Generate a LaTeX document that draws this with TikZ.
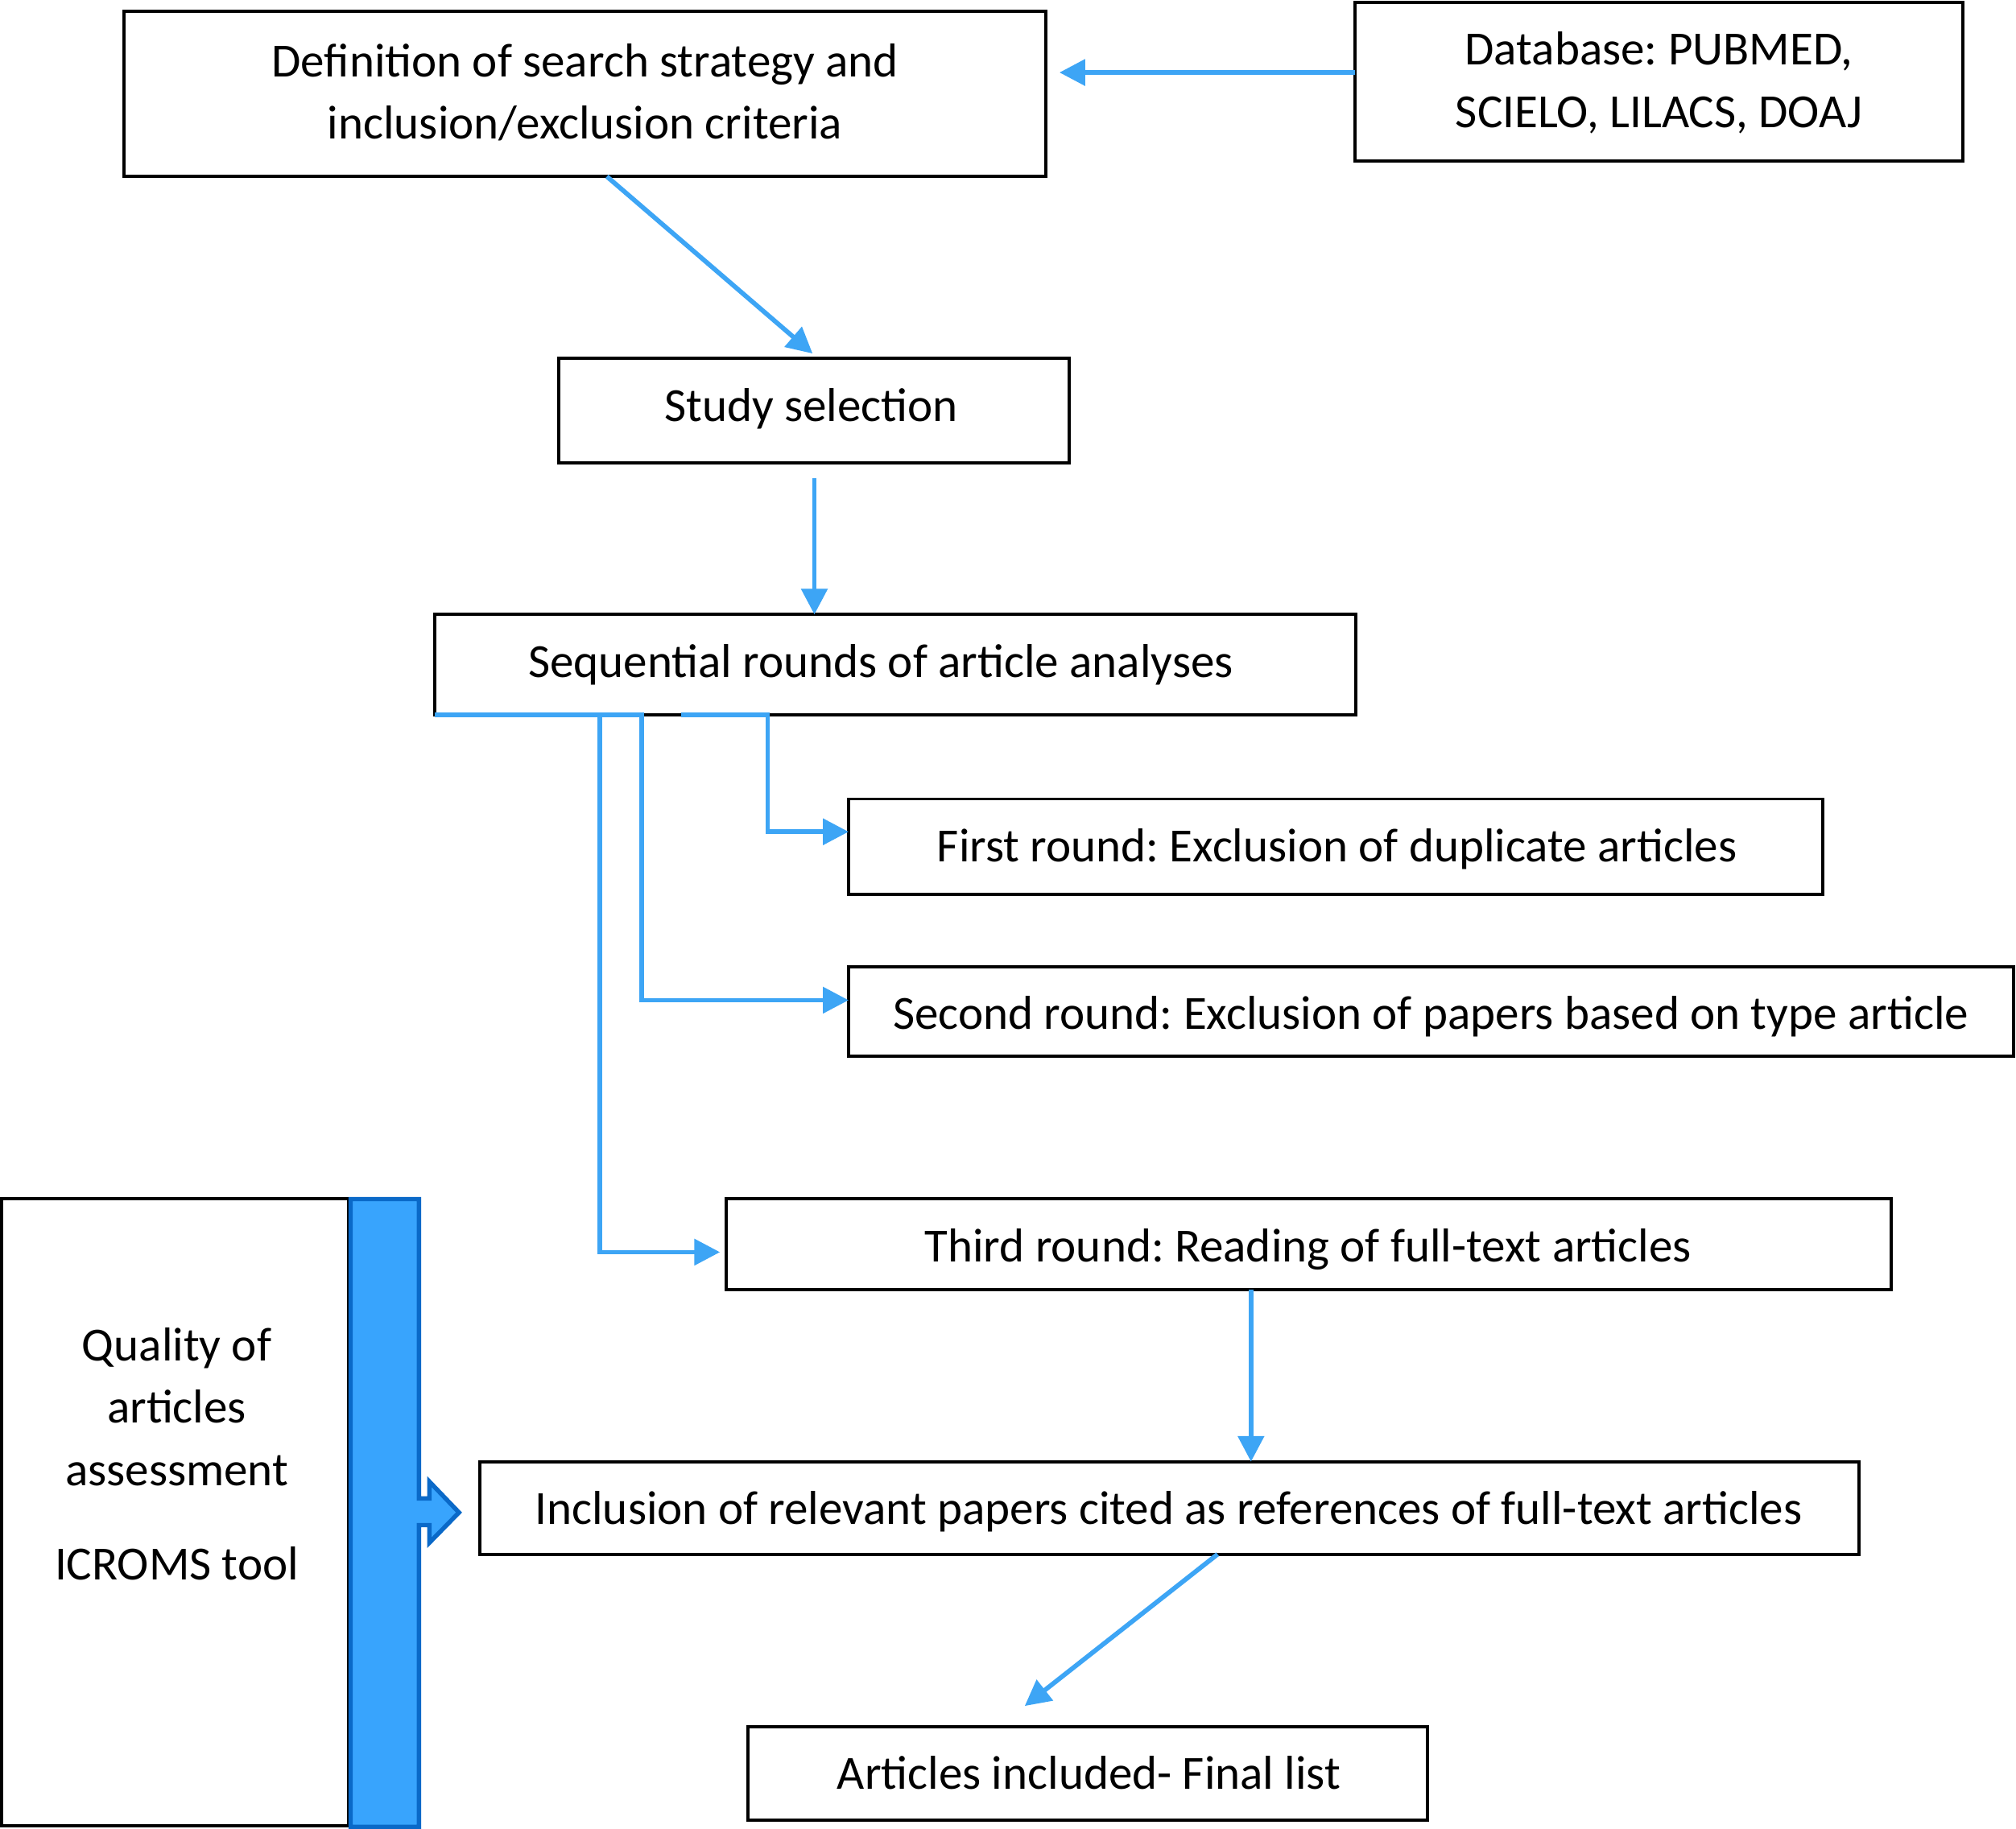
\documentclass[tikz,border=0pt]{standalone}
\usepackage{fontspec}
\setmainfont{Carlito}
\usetikzlibrary{arrows.meta}
\definecolor{lblue}{RGB}{61,165,245}
\definecolor{barfill}{RGB}{56,164,253}
\definecolor{bardraw}{RGB}{10,105,200}
\frenchspacing
\begin{document}
\begin{tikzpicture}[x=1pt,y=-1pt,
  box/.style={draw=black, line width=2.5pt, fill=white, inner sep=0pt, align=center, font=\fontsize{37}{48.6}\selectfont},
  txt/.style={inner sep=0pt, align=center, font=\fontsize{37}{48.6}\selectfont},
  btxt/.style={txt, anchor=base},
  conn/.style={draw=lblue, line width=3.6pt, -{Triangle[length=20pt,width=20pt]}},
  bar/.style={fill=barfill, draw=bardraw, line width=3.4pt},
]
\useasboundingbox (0,0) rectangle (1568,1422.7);

% boxes
\node[box, minimum width=717.3pt, minimum height=128.3pt] (def) at (454.85,73.15) {};
\node[txt] (deftext) at (455,71.8) {Definition of search strategy and\\inclusion/exclusion criteria};
\node[box, minimum width=472.6pt, minimum height=123.2pt] (db) at (1290.3,63.4) {};
\node[txt] (dbtext) at (1290.3,64.2) {Database: PUBMED,\\SCIELO, LILACS, DOAJ};
\node[box, minimum width=397pt, minimum height=81.4pt] (study) at (633,319.3) {};
\node[btxt] (studytext) at (631,327.6) {Study selection};
\node[box, minimum width=716.6pt, minimum height=78pt] (seq) at (696.3,517) {};
\node[btxt] (seqtext) at (685,527) {Sequential rounds of article analyses};
\node[box, minimum width=758pt, minimum height=74.1pt] (first) at (1039,658.55) {};
\node[btxt] (firsttext) at (1040,670.5) {First round: Exclusion of duplicate articles};
\node[box, minimum width=906pt, minimum height=69.6pt] (second) at (1113,786.6) {};
\node[btxt] (secondtext) at (1113,800.8) {Second round: Exclusion of papers based on type article};
\node[box, minimum width=906pt, minimum height=70.7pt] (third) at (1018,967.65) {};
\node[btxt] (thirdtext) at (1017.5,981.3) {Third round: Reading of full-text articles};
\node[box, minimum width=1073pt, minimum height=72pt] (incl) at (909.5,1173) {};
\node[btxt] (incltext) at (909,1185.5) {Inclusion of relevant papers cited as references of full-text articles};
\node[box, minimum width=528pt, minimum height=73pt] (final) at (846,1379.5) {};
\node[btxt] (finaltext) at (847,1392) {Articles included- Final list};
\node[box, minimum width=269.6pt, minimum height=487.4pt] (qbox) at (136.2,1176.3) {};
\node[txt] (qtext) at (137.5,1131) {Quality of\\articles\\assessment\\[25pt]ICROMS tool};

% blue bar with block arrow
\draw[bar] (272.7,932.7) -- (325.9,932.7) -- (325.9,1165.6) -- (334,1165.6) -- (334,1152.5)
  -- (357,1176.5) -- (334,1200) -- (334,1186.3) -- (325.9,1186.3) -- (325.9,1421) -- (272.7,1421) -- cycle;

% connector coordinates
\coordinate (dbs) at (1054,56.4);
\coordinate (dbt) at (824,56.4);
\coordinate (as) at (472,137.3);
\coordinate (st) at (632,275);
\coordinate (ss) at (633.4,372);
\coordinate (qt) at (633.4,478);
\coordinate (q0) at (338,556);
\coordinate (j2) at (466.5,556);
\coordinate (j1) at (530,556);
\coordinate (k1) at (597,647);
\coordinate (t1) at (660,647);
\coordinate (k2) at (499,778);
\coordinate (t2) at (660,778);
\coordinate (k3) at (466.5,974);
\coordinate (t3) at (560,974);
\coordinate (ts) at (973,1003);
\coordinate (it) at (973,1137);
\coordinate (is) at (947,1209);
\coordinate (ft) at (797,1327);

% connectors
\draw[conn] (dbs) -- (dbt);
\draw[conn] (as) -- (st);
\draw[conn] (ss) -- (qt);
\draw[conn] (q0) -| (k3) -- (t3);
\draw[conn] (j2) -| (k2) -- (t2);
\draw[conn] (j1) -| (k1) -- (t1);
\draw[conn] (ts) -- (it);
\draw[conn] (is) -- (ft);
\end{tikzpicture}
\end{document}
